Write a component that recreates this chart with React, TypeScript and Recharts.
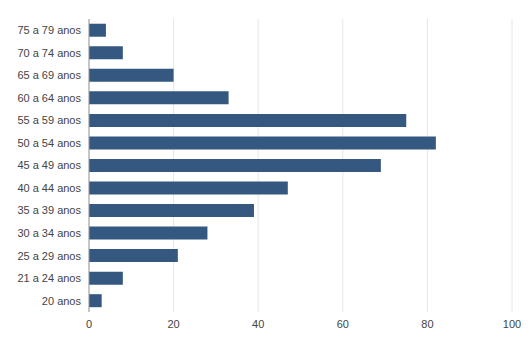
import { BarChart, Bar, XAxis, YAxis, CartesianGrid } from "recharts";

const faixas = [
  "75 a 79 anos",
  "70 a 74 anos",
  "65 a 69 anos",
  "60 a 64 anos",
  "55 a 59 anos",
  "50 a 54 anos",
  "45 a 49 anos",
  "40 a 44 anos",
  "35 a 39 anos",
  "30 a 34 anos",
  "25 a 29 anos",
  "21 a 24 anos",
  "20 anos",
];
const quantidade = [4, 8, 20, 33, 75, 82, 69, 47, 39, 28, 21, 8, 3];
const xTicks = [0, 20, 40, 60, 80, 100];

const data = faixas.map((faixa, i) => ({ faixa, valor: quantidade[i] }));

const tickStyle = { fontSize: 11, fill: "#444", fontFamily: "Liberation Sans, Arial, sans-serif" };

export default function App() {
  return (
    <div style={{ margin: -8, width: 531, height: 353, background: "#fff" }}>
      <BarChart
        width={531}
        height={353}
        data={data}
        layout="vertical"
        margin={{ top: 19, right: 19, bottom: 11, left: 0 }}
        barCategoryGap="21%"
      >
        <CartesianGrid horizontal={false} stroke="#e6e6e6" />
        <XAxis
          type="number"
          domain={[0, 100]}
          ticks={xTicks}
          axisLine={false}
          tickLine={false}
          tick={tickStyle}
          height={30}
        />
        <YAxis
          type="category"
          dataKey="faixa"
          width={89}
          tickLine={false}
          axisLine={{ stroke: "#999" }}
          tick={tickStyle}
          interval={0}
        />
        <Bar dataKey="valor" fill="#34587f" isAnimationActive={false} />
      </BarChart>
    </div>
  );
}
